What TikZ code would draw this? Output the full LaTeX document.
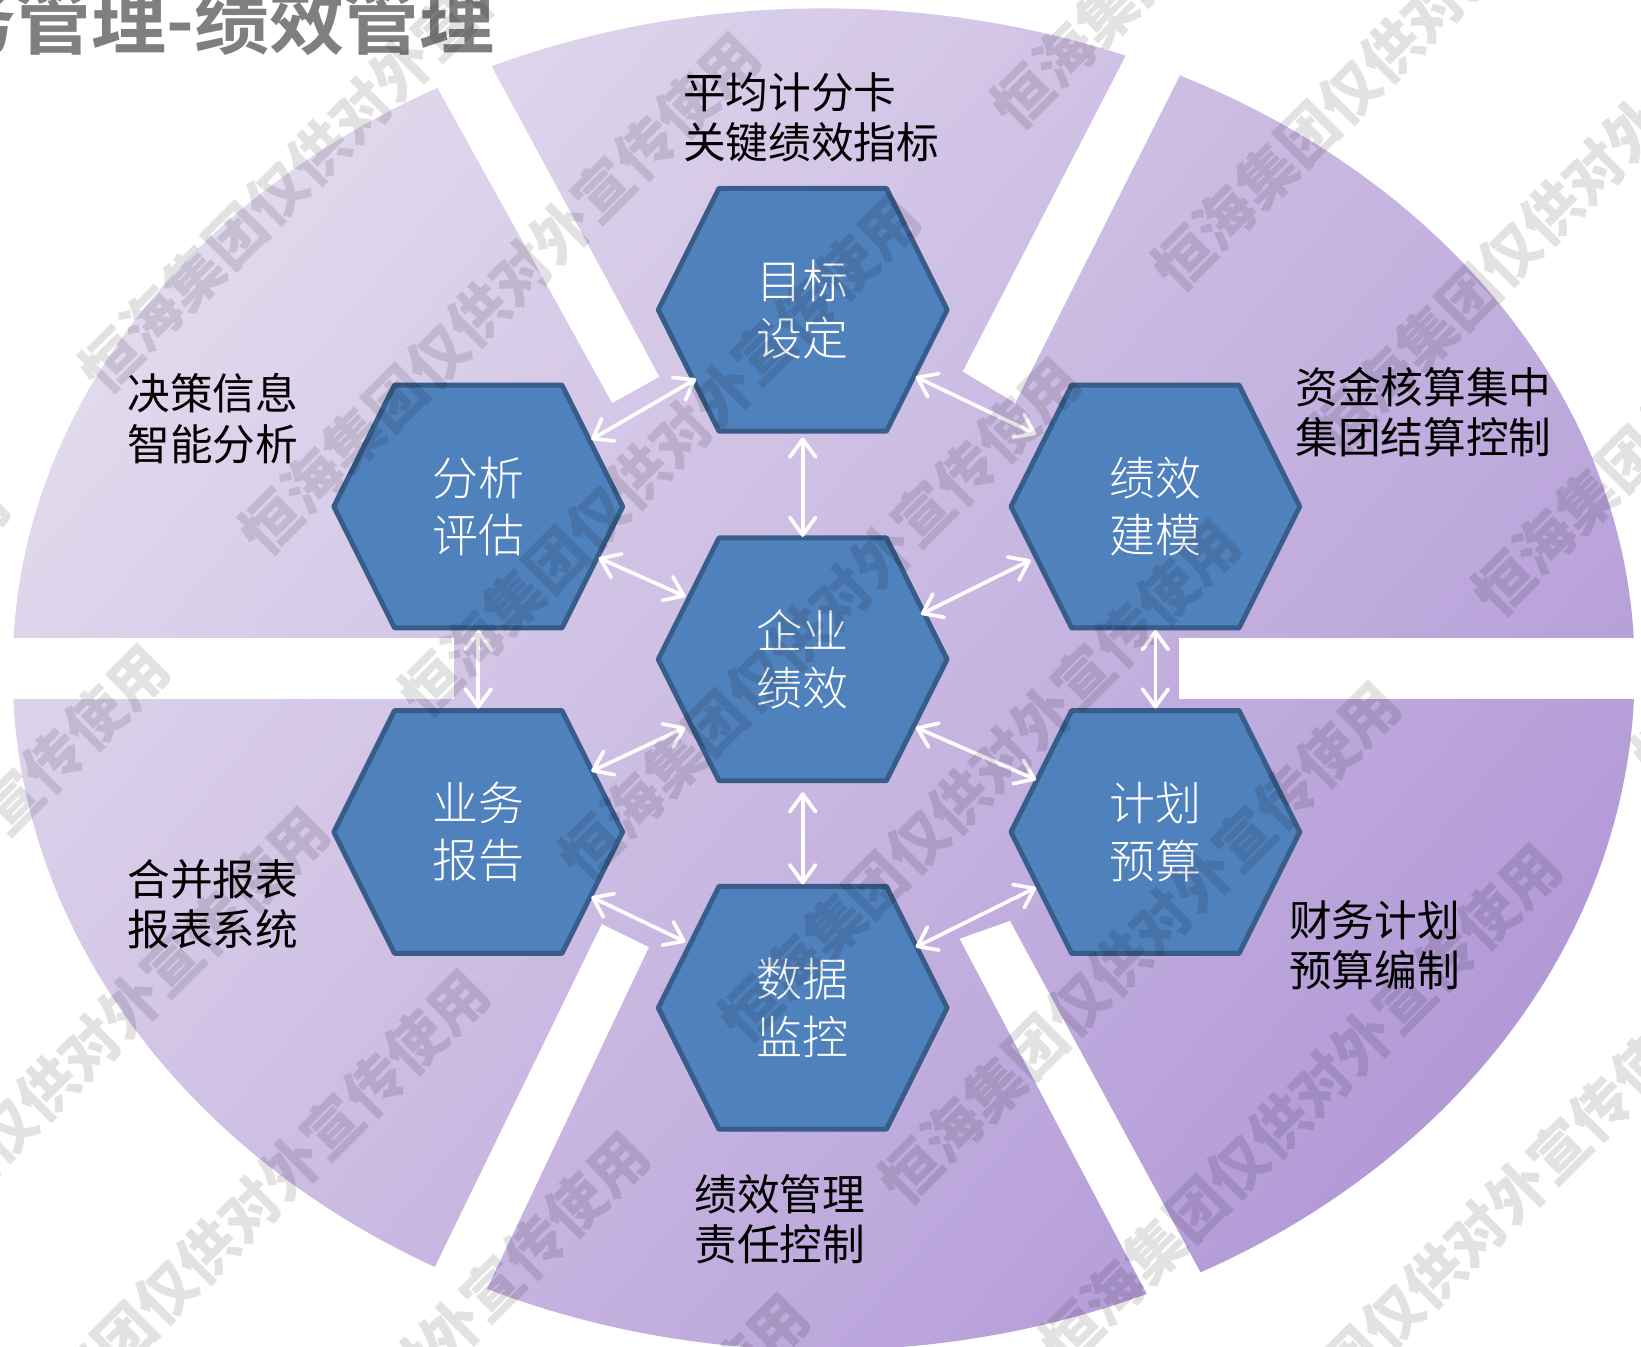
\documentclass[tikz,border=0pt]{standalone}
\usepackage{fontspec}
\setmainfont{Noto Sans CJK SC}
\newfontfamily\cjkthin{Noto Sans CJK SC Light}
\newfontfamily\cjkbold{Noto Sans CJK SC Bold}
\newfontfamily\cjkheavy{Noto Sans CJK SC Black}
\usetikzlibrary{arrows.meta}
\definecolor{hexfill}{HTML}{4F81BD}
\definecolor{hexline}{HTML}{385D8A}
\definecolor{lilacA}{HTML}{E1D9ED}
\definecolor{lilacB}{HTML}{D0C4E4}
\definecolor{lilacC}{HTML}{B39AD7}
\definecolor{titlegray}{HTML}{7F7F7F}
\tikzset{
  hexshape/.style={draw=hexline,fill=hexfill,line width=1.35pt,line join=round},
  hextext/.style={inner sep=0pt,text=white,align=center,font=\cjkthin\fontsize{12.5}{15.6}\selectfont},
  lab/.style={anchor=west,align=left,text=black,inner sep=0pt,font=\fontsize{11.6}{13.7}\selectfont},
  twoway/.style={{Straight Barb[length=4.8pt,width=7pt,round]}-{Straight Barb[length=4.8pt,width=7pt,round]},white,line width=1pt},
  bar/.style={fill=white,draw=none},
  wmark/.style={anchor=west,inner sep=0pt,rotate=45,opacity=0.115,text=black,font=\cjkheavy\fontsize{16}{16}\selectfont},
}
\newcommand{\wmtext}{恒海集团仅供对外宣传使用}
\newcommand{\hexcell}[3]{%
  \draw[hexshape] (#2) ++(-138,0) -- ++(58,-116) -- ++(160,0) -- ++(58,116) -- ++(-58,116) -- ++(-160,0) -- cycle;
  \node[hextext] (#1) at (#2) {#3};}
\begin{document}
\begin{tikzpicture}[x=0.01cm,y=-0.01cm]
\useasboundingbox (0,0) rectangle (1568,1287);
\begin{scope}
\clip (0,0) rectangle (1568,1287);
% backdrop
\shade[left color=lilacA,middle color=lilacB,right color=lilacC,shading angle=50]
  (12,640) arc[start angle=180,end angle=360,x radius=775,y radius=632]
  arc[start angle=0,end angle=180,x radius=775,y radius=650] -- cycle;
% white gaps
\fill[bar] (-5,610) rectangle (434,668);
\fill[bar] (1127,610) rectangle (1575,668);
\fill[bar] (630,360) -- (585,385) -- (391,35) -- (437,3) -- cycle;
\fill[bar] (920,355) -- (970,385) -- (1165,-3) -- (1115,-23) -- cycle;
\fill[bar] (575,883) -- (620,905) -- (427,1312) -- (377,1290) -- cycle;
\fill[bar] (917,897) -- (965,880) -- (1190,1295) -- (1140,1320) -- cycle;
% title
\node[anchor=base west,inner sep=0pt,text=titlegray,font=\cjkbold\fontsize{20.4}{20.4}\selectfont] (title) at (-57,46) {务管理-绩效管理};
% hexagons
\hexcell{goal}{767,296}{目标\\设定}
\hexcell{core}{767,630}{企业\\绩效}
\hexcell{ana}{457,484}{分析\\评估}
\hexcell{model}{1104,484}{绩效\\建模}
\hexcell{report}{457,795}{业务\\报告}
\hexcell{plan}{1104,795}{计划\\预算}
\hexcell{data}{767,963}{数据\\监控}
% connectors
\draw[twoway] ([shift={(-102,66)}]goal.center) -- ([shift={(108,-64)}]ana.center);
\draw[twoway] ([shift={(108,64)}]goal.center) -- ([shift={(-114,-69)}]model.center);
\draw[twoway] ([shift={(0,122)}]goal.center) -- ([shift={(0,-117)}]core.center);
\draw[twoway] ([shift={(115,49)}]ana.center) -- ([shift={(-112,-60)}]core.center);
\draw[twoway] ([shift={(-119,51)}]model.center) -- ([shift={(113,-43)}]core.center);
\draw[twoway] ([shift={(0,118)}]ana.center) -- ([shift={(0,-118)}]report.center);
\draw[twoway] ([shift={(0,118)}]model.center) -- ([shift={(0,-118)}]plan.center);
\draw[twoway] ([shift={(-112,65)}]core.center) -- ([shift={(108,-58)}]report.center);
\draw[twoway] ([shift={(108,65)}]core.center) -- ([shift={(-114,-50)}]plan.center);
\draw[twoway] ([shift={(0,127)}]core.center) -- ([shift={(0,-118)}]data.center);
\draw[twoway] ([shift={(108,62)}]report.center) -- ([shift={(-112,-63)}]data.center);
\draw[twoway] ([shift={(-114,53)}]plan.center) -- ([shift={(108,-58)}]data.center);
% labels
\node[lab] (l1) at (652,112) {平均计分卡\\关键绩效指标};
\node[lab] (l2) at (121,400) {决策信息\\智能分析};
\node[lab] (l3) at (1237,394) {资金核算集中\\集团结算控制};
\node[lab] (l4) at (121,864) {合并报表\\报表系统};
\node[lab] (l5) at (1231,903) {财务计划\\预算编制};
\node[lab] (l6) at (663,1165) {绩效管理\\责任控制};
% watermarks
\foreach \i in {0,...,6} {
  \node[wmark] at (85+153*\i,365+155*\i) {\wmtext};
  \node[wmark] at (-480+153*\i,950+155*\i) {\wmtext};
  \node[wmark] at (957+153*\i,113+155*\i) {\wmtext};
}
\node[wmark] at (1151,1438) {\wmtext};
\end{scope}
\end{tikzpicture}
\end{document}
